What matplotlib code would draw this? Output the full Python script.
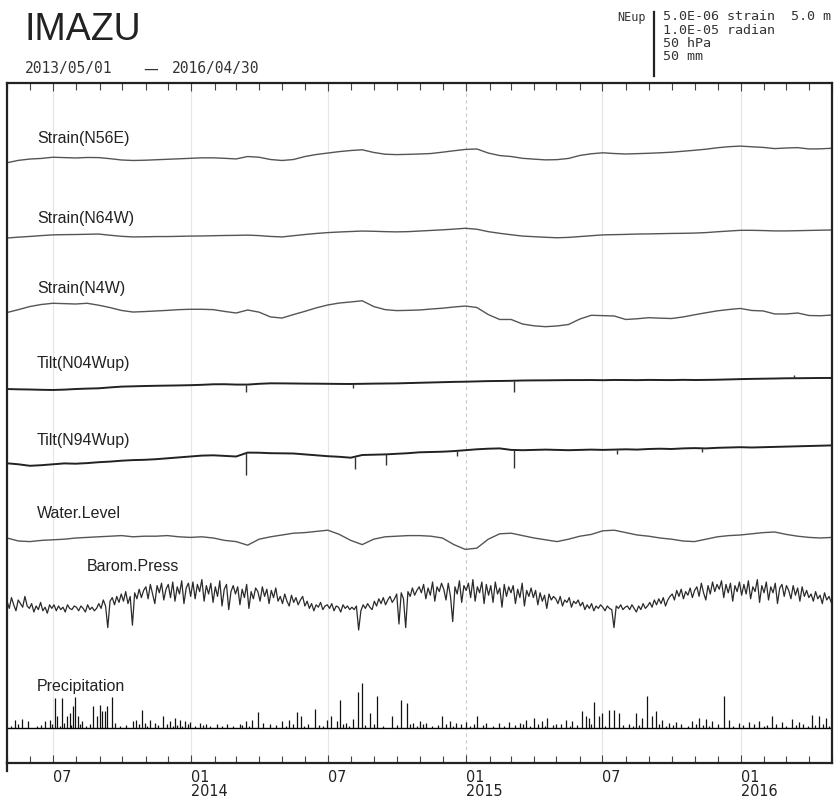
#!/usr/bin/env python3

import numpy as np
import pandas as pd
import matplotlib
matplotlib.use('Agg')
import matplotlib.pyplot as plt
import matplotlib.dates as mdates
from matplotlib.lines import Line2D

START = '2013-05-01'
END = '2016-05-01'

# strain in 1e-6, half-month samples
strain_n56e = [-0.23, -0.03, 0.08, 0.13, 0.23, 0.2, 0.17, 0.21, 0.2, 0.11, 0.0, -0.04, -0.02,
               0.02, 0.06, 0.1, 0.14, 0.18, 0.18, 0.14, 0.09, 0.29, 0.23, 0.04, -0.04, 0.04,
               0.29, 0.46, 0.58, 0.7, 0.79, 0.85, 0.63, 0.48, 0.45, 0.47, 0.5, 0.54, 0.65,
               0.77, 0.88, 0.92, 0.58, 0.37, 0.29, 0.14, 0.07, 0.01, 0.03, 0.13, 0.38, 0.52,
               0.6, 0.54, 0.5, 0.53, 0.56, 0.6, 0.65, 0.73, 0.81, 0.9, 1.02, 1.11, 1.16, 1.1,
               1.05, 0.95, 1.0, 1.03, 0.92, 0.93, 0.98]
strain_n64w = [-0.25, -0.18, -0.12, -0.05, 0.01, 0.03, 0.04, 0.06, 0.08, -0.02, -0.11, -0.16,
               -0.15, -0.13, -0.13, -0.11, -0.09, -0.08, -0.06, -0.04, -0.03, -0.01, -0.05,
               -0.12, -0.16, -0.06, 0.04, 0.13, 0.2, 0.25, 0.29, 0.33, 0.31, 0.28, 0.26, 0.28,
               0.33, 0.38, 0.43, 0.49, 0.56, 0.48, 0.28, 0.14, 0.02, -0.09, -0.14, -0.19,
               -0.23, -0.2, -0.13, -0.06, 0.01, 0.03, 0.05, 0.08, 0.09, 0.11, 0.13, 0.14,
               0.16, 0.2, 0.27, 0.33, 0.39, 0.39, 0.37, 0.34, 0.34, 0.36, 0.38, 0.4, 0.42]
strain_n4w = [-0.21, 0.03, 0.29, 0.46, 0.56, 0.53, 0.5, 0.56, 0.4, 0.2, -0.04, -0.17, -0.13,
              -0.08, -0.03, 0.03, 0.06, 0.06, 0.03, -0.12, -0.25, 0.0, -0.18, -0.58, -0.67,
              -0.38, -0.11, 0.18, 0.42, 0.58, 0.67, 0.77, 0.29, 0.03, -0.05, -0.03, 0.0, 0.08,
              0.15, 0.25, 0.33, 0.21, -0.38, -0.79, -0.79, -1.17, -1.32, -1.39, -1.33, -1.21,
              -0.75, -0.44, -0.47, -0.5, -0.79, -0.73, -0.64, -0.68, -0.71, -0.58, -0.4,
              -0.23, -0.07, 0.04, 0.13, -0.04, -0.08, -0.33, -0.33, -0.25, -0.46, -0.48, -0.42]

# tilt in 1e-6 radian, half-month samples
tilt_n04w = [-0.67, -0.72, -0.75, -0.8, -0.83, -0.77, -0.67, -0.6, -0.55, -0.4, -0.27, -0.22,
             -0.17, -0.13, -0.1, -0.07, -0.03, 0.03, 0.12, 0.13, 0.07, 0.07, 0.2, 0.28, 0.27,
             0.25, 0.23, 0.22, 0.2, 0.18, 0.17, 0.2, 0.23, 0.25, 0.27, 0.32, 0.37, 0.42, 0.47,
             0.52, 0.55, 0.6, 0.65, 0.67, 0.7, 0.75, 0.77, 0.78, 0.8, 0.82, 0.82, 0.83, 0.8,
             0.84, 0.83, 0.81, 0.85, 0.83, 0.82, 0.86, 0.83, 0.85, 0.88, 0.93, 0.98, 1.02,
             1.05, 1.08, 1.12, 1.13, 1.15, 1.17, 1.17]
tilt_n94w = [-0.88, -1.05, -1.3, -1.2, -1.05, -0.9, -0.95, -0.85, -0.7, -0.6, -0.45, -0.35,
             -0.3, -0.2, -0.05, 0.1, 0.25, 0.4, 0.45, 0.35, 0.25, 0.9, 0.88, 0.8, 0.78, 0.75,
             0.6, 0.45, 0.3, 0.2, 0.05, 0.5, 0.55, 0.6, 0.7, 0.8, 0.95, 1.0, 1.05, 1.15, 1.3,
             1.45, 1.55, 1.6, 1.35, 1.3, 1.35, 1.4, 1.35, 1.3, 1.35, 1.4, 1.35, 1.4, 1.45, 1.4,
             1.5, 1.55, 1.5, 1.6, 1.65, 1.6, 1.7, 1.75, 1.8, 1.75, 1.8, 1.85, 1.9, 1.95, 2.0,
             2.05, 2.1]

# short offsets on the tilt records: date, size (1e-6 radian, negative = down)
tilt_n04w_spike_dates = ['2014-03-15', '2014-08-03', '2015-03-06', '2016-03-12']
tilt_n04w_spike_size = [-1.3, -0.7, -1.8, 0.6]
tilt_n94w_spike_dates = ['2014-03-15', '2014-08-06', '2014-09-16', '2014-12-20', '2015-03-06',
                         '2015-07-20', '2015-11-10']
tilt_n94w_spike_size = [-3.6, -2.0, -1.7, -0.8, -3.0, -0.8, -0.6]

# water level in m, half-month samples
water_level = [0.0, -0.25, -0.3, -0.2, -0.15, -0.1, 0.0, 0.05, 0.1, 0.15, 0.2, 0.1, 0.15,
               0.15, 0.2, 0.1, 0.05, 0.1, 0.0, -0.2, -0.3, -0.6, -0.1, 0.1, 0.25, 0.4, 0.45,
               0.55, 0.65, 0.3, -0.2, -0.55, -0.1, 0.1, 0.15, 0.2, 0.2, 0.15, 0.0, -0.55,
               -0.95, -0.85, -0.1, 0.35, 0.4, 0.2, 0.0, -0.15, -0.3, -0.1, 0.15, 0.3, 0.6, 0.65,
               0.45, 0.25, 0.15, 0.0, -0.1, -0.25, -0.3, -0.1, 0.1, 0.2, 0.25, 0.35, 0.45, 0.5,
               0.3, 0.15, 0.05, 0.0, 0.05]

# barometric pressure in hPa, 3-day samples
pressure = [
    1012, 1006, 1015, 1009, 1004, 1013, 1010, 1007, 1016, 1008,
    1006, 1010, 1003, 1008, 1005, 1011, 1004, 1007, 1002, 1009,
    1006, 1009, 1004, 1008, 1005, 1007, 1003, 1009, 1006, 1005, 1008,
    1007, 1004, 1008, 1006, 1003, 1009, 1005, 1007, 1004, 1006,
    1010, 1006, 1013, 1008, 990, 1012, 1015, 1009, 1016, 1011,
    1018, 1012, 1020, 1010, 1016, 992, 1019, 1014, 1022, 1015, 1021,
    1024, 1014, 1026, 1018, 1010, 1025, 1019, 1027, 1013, 1022,
    1026, 1015, 1028, 1012, 1024, 1018, 1029, 1010, 1023, 1027, 1016,
    1028, 1014, 1026, 1020, 1030, 1012, 1025, 1018, 1027, 1011,
    1024, 1016, 1029, 1008, 1022, 1026, 1005, 1020, 1025,
    1018, 1024, 1009, 1022, 1015, 1026, 1006, 1020, 1014, 1023,
    1020, 1012, 1024, 1016, 1022, 1010, 1021, 1015, 1023, 1012,
    1016, 1010, 1018, 1012, 1008, 1017, 1011, 1015, 1009, 1013, 1016,
    1008, 1012, 1006, 1010, 1004, 1009, 1007, 1011, 1005, 1008,
    1009, 1006, 1010, 1004, 1008, 1007, 1003, 1009, 1006, 1008, 1005,
    1007, 1005, 1008, 988, 1004, 1009, 1006, 1010, 1007, 1005,
    1012, 1008, 1014, 1010, 1015, 1009, 1013, 1016, 1011, 1014,
    1018, 993, 1019, 1014, 990, 1020, 1016, 1023, 1017, 1021, 1024,
    1019, 1026, 1014, 1023, 1017, 1028, 1012, 1024, 1020, 1027,
    1022, 1013, 1027, 1016, 995, 1024, 1018, 1029, 1011, 1025, 1021,
    1027, 1015, 1030, 1012, 1024, 1019, 1028, 1010, 1026, 1017,
    1025, 1011, 1028, 1018, 1023, 1007, 1026, 1016, 1024,
    1019, 1025, 1010, 1022, 1015, 1027, 1008, 1021, 1016, 1023,
    1015, 1021, 1009, 1019, 1012, 1017, 1006, 1018, 1013, 1016,
    1014, 1010, 1016, 1008, 1013, 1011, 1015, 1007, 1012, 1010, 1013,
    1008, 1011, 1005, 1009, 1006, 1010, 1004, 1008, 1006, 1009,
    1007, 1004, 1008, 1006, 1005, 990, 1008, 1006, 1009, 1005, 1007,
    1008, 1005, 1009, 1006, 1003, 1008, 1005, 1010, 1006, 1008,
    1011, 1007, 1013, 1009, 1014, 1010, 1015, 1008, 1013, 1016,
    1018, 1013, 1021, 1016, 1022, 1014, 1020, 1017, 1023, 1015, 1021,
    1024, 1016, 1027, 1019, 1013, 1025, 1018, 1028, 1020, 1026,
    1022, 1029, 1015, 1026, 1019, 1027, 1012, 1025, 1020, 1028, 1017,
    1026, 1018, 1029, 1014, 1024, 1020, 1030, 1011, 1025, 1019,
    1028, 1013, 1024, 1019, 1027, 1010, 1023, 1026, 1016, 1025,
    1021, 1014, 1025, 1017, 1023, 1012, 1024, 1016, 1021, 1015,
    1018, 1012, 1020, 1014, 1017, 1010, 1019, 1013, 1016, 1011,
]

# daily precipitation (mm), day number counted from 2013-05-01
precip_days = [11, 20, 28, 50, 57, 64, 66, 73, 80, 84, 88, 90, 94, 100, 114, 119, 123, 126,
               130, 133, 139, 143, 167, 172, 179, 183, 190, 196, 207, 216, 223, 230, 236, 243,
               256, 265, 279, 292, 309, 318, 326, 333, 340, 365, 375, 385, 391, 409, 425, 431,
               438, 442, 451, 459, 466, 472, 482, 492, 512, 524, 531, 539, 548, 557, 578, 588,
               597, 610, 625, 637, 654, 667, 681, 690, 700, 711, 718, 730, 743, 751, 764, 769,
               773, 780, 787, 791, 800, 807, 813, 836, 844, 850, 857, 862, 870, 880, 889, 910,
               919, 929, 937, 952, 959, 972, 986, 999, 1016, 1029, 1043, 1052, 1069, 1079, 1088]
precip_mm = [7, 7.5, 5.5, 5.5, 7, 25, 10, 25, 10, 12.5, 18, 26, 10, 5.5, 18, 10, 19.5, 14,
             14, 18, 26, 4, 5.5, 7, 15, 4, 7, 4, 10, 5.5, 8, 7, 5.5, 5, 4, 3.5, 3, 3.5, 3.5,
             5.5, 7, 13, 4, 5.5, 7, 13, 10, 16, 7, 10, 5.5, 23.5, 4, 7.5, 30, 37.5, 12.5, 26.5,
             10, 23.5, 21, 4, 5.5, 4, 10, 5.5, 4, 5, 10, 4, 4, 5, 4, 7, 8.5, 5.5, 8.5, 3.5, 6.5,
             5.5, 14, 10, 8.5, 22, 10, 12.5, 15, 15, 12.5, 12.5, 8.5, 26.5, 10, 14, 7, 4, 5,
             5.5, 8.5, 7.5, 5.5, 26.5, 7, 4, 5, 5.5, 10, 5, 7.5, 5, 11, 10, 8.5]
drizzle_days = [5, 15, 40, 45, 60, 70, 76, 85, 97, 105, 110, 150, 158, 176, 186, 200, 212,
                220, 226, 233, 240, 250, 260, 270, 285, 300, 312, 322, 350, 358, 370, 380, 395,
                400, 415, 420, 447, 455, 476, 487, 500, 518, 535, 545, 553, 565, 572, 583, 592,
                603, 615, 620, 632, 645, 660, 675, 685, 695, 705, 715, 725, 736, 748, 757, 776,
                795, 819, 826, 832, 840, 866, 875, 885, 895, 905, 915, 924, 933, 945, 965, 978,
                992, 1005, 1010, 1022, 1035, 1048, 1058, 1064, 1074, 1084, 1092]
drizzle_mm = [2, 3, 1.5, 2.5, 3, 2, 4, 2.5, 3, 2, 3.5, 2, 2.5, 3, 2, 2.5, 3, 2, 2.5, 2, 3, 2,
              2.5, 2, 1.5, 2, 2.5, 2, 3, 2.5, 2, 3, 2, 3.5, 2.5, 2, 3, 2, 2.5, 3, 2, 2.5, 3.5,
              2, 3, 2, 2.5, 3, 2, 3.5, 2, 3, 2.5, 2, 2, 2.5, 3, 2, 3, 2, 2.5, 3, 2, 2.5, 3, 2,
              2.5, 3, 2, 2.5, 3, 2, 2.5, 3, 2, 3, 2.5, 2, 3, 2, 2.5, 3, 2, 2.5, 3, 2, 2.5, 3, 2,
              2.5, 3, 2]

channel_names = ['Strain(N56E)', 'Strain(N64W)', 'Strain(N4W)', 'Tilt(N04Wup)',
                 'Tilt(N94Wup)', 'Water.Level', 'Barom.Press', 'Precipitation']

W, H = 834, 805
SCALE_PX = 60  # length of the scale bar in pixels


def fx(px):
    return px / W


def fy(py):
    return 1 - py / H


def half_month(vals):
    return pd.date_range(START, END, periods=len(vals))


fig = plt.figure(figsize=(W / 100, H / 100), dpi=100)
ax = fig.add_axes([fx(7), fy(763), fx(832) - fx(7), fy(83) - fy(763)])
ax.set_xlim(pd.Timestamp(START), pd.Timestamp(END))
ax.set_ylim(763, 83)

# faint grid at half years, dashed at new year 2015
for d in ['2013-07-01', '2014-01-01', '2014-07-01', '2015-07-01', '2016-01-01']:
    ax.axvline(pd.Timestamp(d), color='#e6e6e6', lw=0.8, zorder=0)
ax.axvline(pd.Timestamp('2015-01-01'), color='#c8c8c8', lw=0.8, ls=(0, (3, 3)), zorder=0)

# strains
px_strain = SCALE_PX / 5.0
for vals, base in [(strain_n56e, 160), (strain_n64w, 235), (strain_n4w, 310)]:
    y = base - np.array(vals) * px_strain
    ax.plot(half_month(vals), y, color='#555555', lw=1.0)

# tilts
px_tilt = SCALE_PX / 10.0
for vals, base, sd, ss in [(tilt_n04w, 385, tilt_n04w_spike_dates, tilt_n04w_spike_size),
                           (tilt_n94w, 458, tilt_n94w_spike_dates, tilt_n94w_spike_size)]:
    dates = half_month(vals)
    y = base - np.array(vals) * px_tilt
    ax.plot(dates, y, color='#222222', lw=1.4)
    sdt = pd.to_datetime(sd)
    y0 = np.interp(mdates.date2num(sdt), mdates.date2num(dates), y)
    ax.vlines(sdt, y0, y0 - np.array(ss) * px_tilt, color='#333333', lw=1.0)

# water level
px_water = SCALE_PX / 5.0
ax.plot(half_month(water_level), 538 - np.array(water_level) * px_water,
        color='#555555', lw=1.0)

# pressure
px_press = SCALE_PX / 50.0
p_dates = pd.date_range(START, '2016-04-30', periods=len(pressure))
ax.plot(p_dates, 600 - (np.array(pressure) - 1013) * px_press, color='#2a2a2a', lw=0.9)

# precipitation
px_rain = SCALE_PX / 50.0
start = pd.Timestamp(START)
ax.axhline(728, color='black', lw=1.0)
for days, mm in [(precip_days, precip_mm), (drizzle_days, drizzle_mm)]:
    dts = start + pd.to_timedelta(days, unit='D')
    ax.vlines(dts, 728, 728 - np.array(mm) * px_rain, color='#111111', lw=0.9)

# channel labels
label_pos = [(37, 138), (37, 218), (37, 288), (37, 363), (37, 440), (37, 513), (87, 566),
             (37, 686)]
for name, (lx, ly) in zip(channel_names, label_pos):
    fig.text(fx(lx), fy(ly), name, fontsize=11.5, family='Liberation Sans',
             color='#222222', va='center', ha='left')

# axis ticks and labels
ax.xaxis.set_minor_locator(mdates.MonthLocator())
major = pd.to_datetime(['2013-07-01', '2014-01-01', '2014-07-01', '2015-01-01',
                        '2015-07-01', '2016-01-01'])
ax.set_xticks(major)
ax.set_xticklabels(['07', '01\n2014', '07', '01\n2015', '07', '01\n2016'], ha='left',
                   fontsize=11.5, family='DejaVu Sans', fontstretch='condensed',
                   linespacing=0.9, color='#222222')
ax.tick_params(axis='x', which='both', direction='in', top=True, length=5, width=0.8,
               pad=5, color='#444444')
ax.tick_params(axis='x', which='major', length=6)
ax.set_yticks([])
for s in ax.spines.values():
    s.set_linewidth(1.6)
    s.set_color('#222222')
# left frame line runs a little below the bottom edge
fig.add_artist(Line2D([fx(7), fx(7)], [fy(763), fy(771)], color='#222222', lw=1.6))

# header
fig.text(fx(24), fy(30), 'IMAZU', fontsize=27, family='Liberation Sans', color='#222222',
         va='center', ha='left')
fig.text(fx(25), fy(69), '2013/05/01', fontsize=10.5, family='DejaVu Sans Mono',
         color='#333333', va='center', ha='left')
fig.text(fx(143), fy(69), '\u2014', fontsize=10.5, family='DejaVu Sans',
         color='#333333', va='center', ha='left')
fig.text(fx(172), fy(69), '2016/04/30', fontsize=10.5, family='DejaVu Sans Mono',
         color='#333333', va='center', ha='left')

fig.text(fx(617), fy(17), 'NEup', fontsize=8.5, family='DejaVu Sans Mono', color='#333333',
         va='center', ha='left')
fig.add_artist(Line2D([fx(654), fx(654)], [fy(12), fy(76)], color='#222222', lw=1.6))
scale_lines = ['5.0E-06 strain  5.0 m', '1.0E-05 radian', '50 hPa', '50 mm']
for i, t in enumerate(scale_lines):
    fig.text(fx(663), fy(17 + 13.3 * i), t, fontsize=9.6, family='DejaVu Sans Mono',
             color='#333333', va='center', ha='left')

fig.savefig('out.png', dpi=100)
